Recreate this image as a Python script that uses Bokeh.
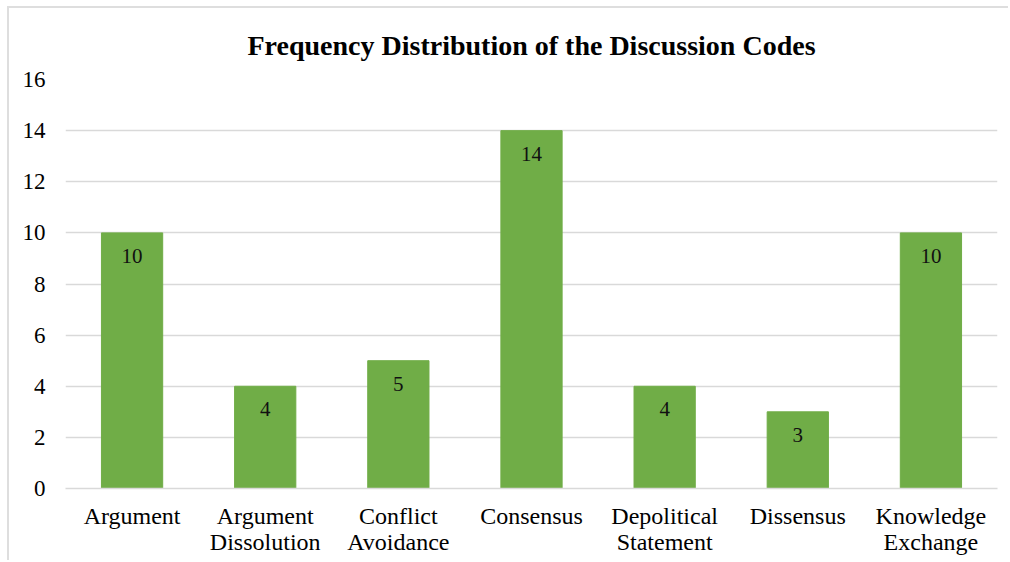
from bokeh.plotting import figure
from bokeh.models import ColumnDataSource, LabelSet, Range1d, FixedTicker, LinearAxis
from bokeh.embed import file_html
from bokeh.resources import INLINE

categories = ["Argument", "Argument Dissolution", "Conflict Avoidance", "Consensus",
              "Depolitical Statement", "Dissensus", "Knowledge Exchange"]
label_line1 = ["Argument", "Argument", "Conflict", "Consensus", "Depolitical", "Dissensus", "Knowledge"]
label_line2 = ["", "Dissolution", "Avoidance", "", "Statement", "", "Exchange"]
values = [10, 4, 5, 14, 4, 3, 10]
y_ticks = [0, 2, 4, 6, 8, 10, 12, 14, 16]

FONT = "Liberation Serif"

xs = list(range(len(categories)))
src = ColumnDataSource(dict(x=xs, val=values, lab=[str(v) for v in values]))

p = figure(x_range=Range1d(-0.5, len(categories) - 0.5), y_range=Range1d(0, 16),
           width=1001, height=554, output_backend="svg", toolbar_location=None,
           min_border_left=56, min_border_right=13, min_border_top=71, min_border_bottom=74,
           styles={"margin-left": "7px", "margin-top": "6px",
                   "border-left": "2px solid #dedede", "border-top": "2px solid #dedede"})

p.vbar(x="x", top="val", width=0.46, source=src, color="#70AD47")

p.add_layout(LabelSet(x="x", y="val", text="lab", source=src, y_offset=-23,
                      text_align="center", text_baseline="middle",
                      text_font=FONT, text_font_size="21px", text_color="#111111"))

p.title.text = "Frequency Distribution of the Discussion Codes"
p.title.align = "center"
p.title.text_font = FONT
p.title.text_font_size = "28px"
p.title.text_font_style = "bold"
p.title.text_color = "#000000"
p.title.standoff = 38

p.outline_line_color = None
p.xgrid.grid_line_color = None
p.ygrid.grid_line_color = "#d9d9d9"
p.ygrid.grid_line_width = 1.5

p.yaxis.ticker = FixedTicker(ticks=y_ticks)
p.yaxis.axis_line_color = None
p.yaxis.major_tick_line_color = None
p.yaxis.minor_tick_line_color = None
p.yaxis.major_label_text_font = FONT
p.yaxis.major_label_text_font_size = "23px"
p.yaxis.major_label_text_color = "#000000"
p.yaxis.major_label_standoff = 14

ax1 = p.xaxis[0]
ax1.ticker = FixedTicker(ticks=xs)
ax1.axis_line_color = "#d9d9d9"
ax1.axis_line_width = 1.5
ax1.major_tick_line_color = None
ax1.minor_tick_line_color = None
ax1.major_label_text_font = FONT
ax1.major_label_text_font_size = "24px"
ax1.major_label_text_color = "#000000"
ax1.major_label_standoff = 8
ax1.major_label_overrides = {i: c for i, c in zip(xs, label_line1)}

ax2 = LinearAxis(ticker=FixedTicker(ticks=xs), axis_line_color=None,
                 major_tick_line_color=None, minor_tick_line_color=None,
                 major_label_text_font=FONT, major_label_text_font_size="24px",
                 major_label_text_color="#000000", major_label_standoff=-9,
                 major_label_overrides={i: c for i, c in zip(xs, label_line2)})
p.add_layout(ax2, "below")

open("out.html", "w").write(file_html(p, INLINE))
